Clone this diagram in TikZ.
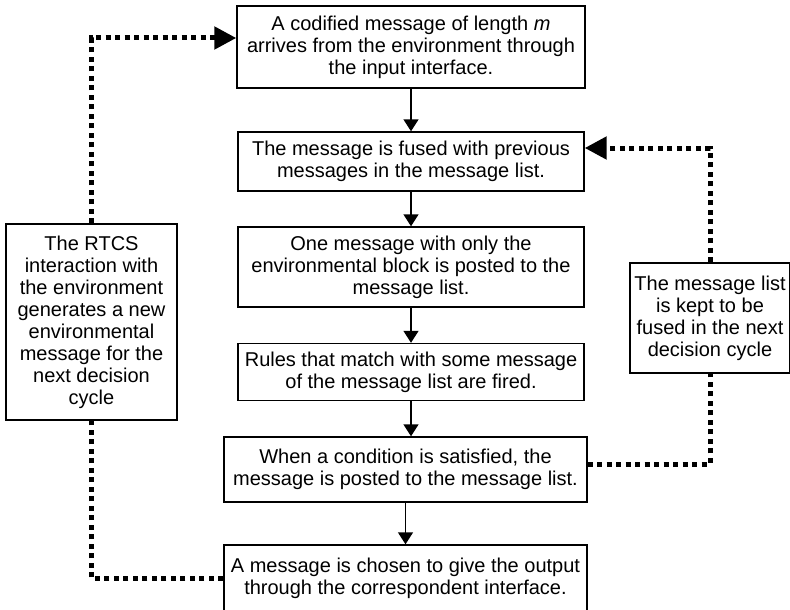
\documentclass[tikz,border=0pt]{standalone}
\usepackage{fontspec}
\setmainfont{Liberation Sans}
\usetikzlibrary{arrows.meta}

\tikzset{
  stepbox/.style={draw=black, line width=1.4pt, fill=white, inner sep=0pt,
    align=center, font=\fontsize{20}{22}\selectfont},
  flow/.style={line width=1.4pt, -{Triangle[length=12pt,width=15pt]}},
  feedback/.style={line width=5pt, dash pattern=on 5pt off 4.5pt},
  feedbackarrow/.style={feedback, -{Triangle[length=22pt,width=22pt]}}
}

\begin{document}
\begin{tikzpicture}[x=1pt, y=-1pt]
  \clip (0,0) rectangle (790,610);

  % main decision cycle
  \node[stepbox, minimum width=348pt, minimum height=82pt] (b1) at (411,47)
    {A codified message of length \textit{m}\\arrives from the environment through\\the input interface.};
  \node[stepbox, minimum width=346pt, minimum height=59pt] (b2) at (411,161.5)
    {The message is fused with previous\\messages in the message list.};
  \node[stepbox, minimum width=346pt, minimum height=80pt] (b3) at (411,267)
    {One message with only the\\environmental block is posted to the\\message list.};
  \node[stepbox, minimum width=346pt, minimum height=57pt] (b4) at (411,372)
    {Rules that match with some message\\of the message list are fired.};
  \node[stepbox, minimum width=363pt, minimum height=65pt] (b5) at (405.5,469.5)
    {When a condition is satisfied, the\\message is posted to the message list.};
  \node[stepbox, minimum width=363pt, minimum height=67pt] (b6) at (405.5,578.5)
    {A message is chosen to give the output\\through the correspondent interface.};

  % side notes
  \node[stepbox, minimum width=171pt, minimum height=196pt] (lnote) at (91.5,322)
    {The RTCS\\interaction with\\the environment\\generates a new\\environmental\\message for the\\next decision\\cycle};
  \node[stepbox, minimum width=160pt, minimum height=110pt] (rnote) at (710,318)
    {The message list\\is kept to be\\fused in the next\\decision cycle};

  % forward flow
  \draw[flow] (b1.south) -- (b1.south |- b2.north);
  \draw[flow] (b2.south) -- (b2.south |- b3.north);
  \draw[flow] (b3.south) -- (b3.south |- b4.north);
  \draw[flow] (b4.south) -- (b4.south |- b5.north);
  \draw[flow] (b5.south) -- (b5.south |- b6.north);

  % environment loop
  \draw[feedback] (b6.west) -| (lnote.south);
  \draw[feedbackarrow] (lnote.north) |- ([yshift=9pt]b1.west);

  % message list loop
  \draw[feedback] ([yshift=5.5pt]b5.east) -| (rnote.south);
  \draw[feedbackarrow] (rnote.north) |- ([yshift=13.5pt]b2.east);
\end{tikzpicture}
\end{document}
